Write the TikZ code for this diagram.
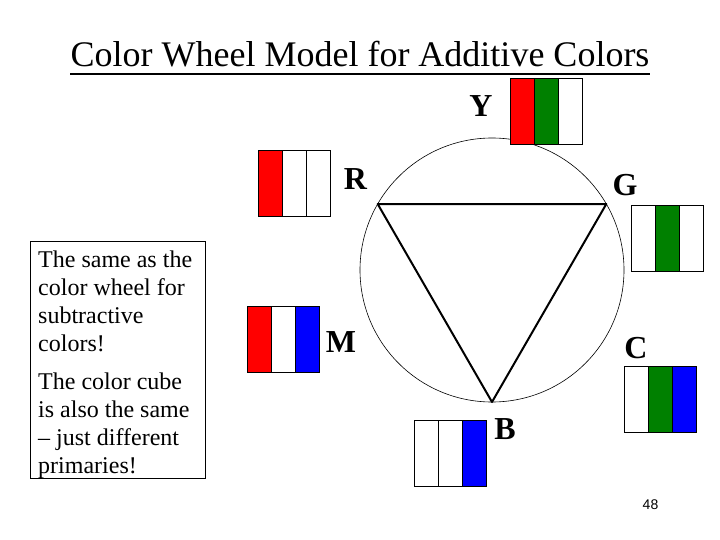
\documentclass[tikz,border=0pt]{standalone}
\usepackage{xcolor}
\usepackage{fontspec}
\setmainfont{Liberation Serif}
\newfontfamily\pagefont{Liberation Sans}
\usepackage{tikz}
\usetikzlibrary{shapes.geometric, calc}

\definecolor{wheelred}{RGB}{255,0,0}
\definecolor{wheelgreen}{RGB}{0,128,0}
\definecolor{wheelblue}{RGB}{0,0,255}

\begin{document}
\begin{tikzpicture}[x=1pt, y=-1pt,
  stripe/.style={draw, line width=0.8pt, minimum width=24pt, minimum height=66pt, inner sep=0pt, outer sep=0pt},
  lab/.style={font=\fontsize{32}{38}\selectfont\bfseries, anchor=base, inner sep=0pt}]
\useasboundingbox (0,0) rectangle (720,540);

\node(title)[anchor=base, inner sep=0pt, font=\fontsize{36}{43}\selectfont] at (360,67) {Color Wheel Model for Additive Colors};
\draw[line width=2pt] ([yshift=-7pt]title.base west) -- ([yshift=-7pt]title.base east);

\node(wheel)[draw, circle, minimum size=264pt, inner sep=0pt, outer sep=0pt, line width=0.6pt] at (492,270) {};

% swatches: name/left/top/three stripe colours
\foreach \sw/\x/\y/\ca/\cb/\cc in {Y/510/78/wheelred/wheelgreen/white,
    R/258/150/wheelred/white/white, G/631/205/white/wheelgreen/white,
    M/247/306/wheelred/white/wheelblue, C/624/366/white/wheelgreen/wheelblue,
    B/414/420/white/white/wheelblue}{
  \node(\sw1)[stripe, fill=\ca] at (\x+12,\y+33) {};
  \node(\sw2)[stripe, fill=\cb] at (\x+36,\y+33) {};
  \node(\sw3)[stripe, fill=\cc] at (\x+60,\y+33) {};
}

\node(Ylab)[lab] at (481,117) {Y};
\node(Rlab)[lab] at (355.5,190) {R};
\node(Glab)[lab] at (625,196) {G};
\node(Mlab)[lab] at (341,352) {M};
\node(Clab)[lab] at (636,358) {C};
\node(Blab)[lab] at (505,439) {B};

\begin{scope}[line width=2pt, line join=round]
\draw (wheel.150) -- (wheel.30) -- (wheel.-90) -- cycle;
\end{scope}

\node(notebox)[draw, line width=0.8pt, minimum width=175pt, minimum height=237pt, inner sep=0pt] at (117.5,359.5) {};
\node(note)[anchor=north west, inner sep=0pt, align=left, font=\fontsize{24}{28}\selectfont] at (38,250.5)
  {The same as the\\color wheel for\\subtractive\\colors!\\[10pt]The color cube\\is also the same\\-- just different\\primaries!};

\node(pagenum)[anchor=base, inner sep=0pt, font=\pagefont\fontsize{14}{16}\selectfont] at (650.5,509) {48};
\end{tikzpicture}
\end{document}
